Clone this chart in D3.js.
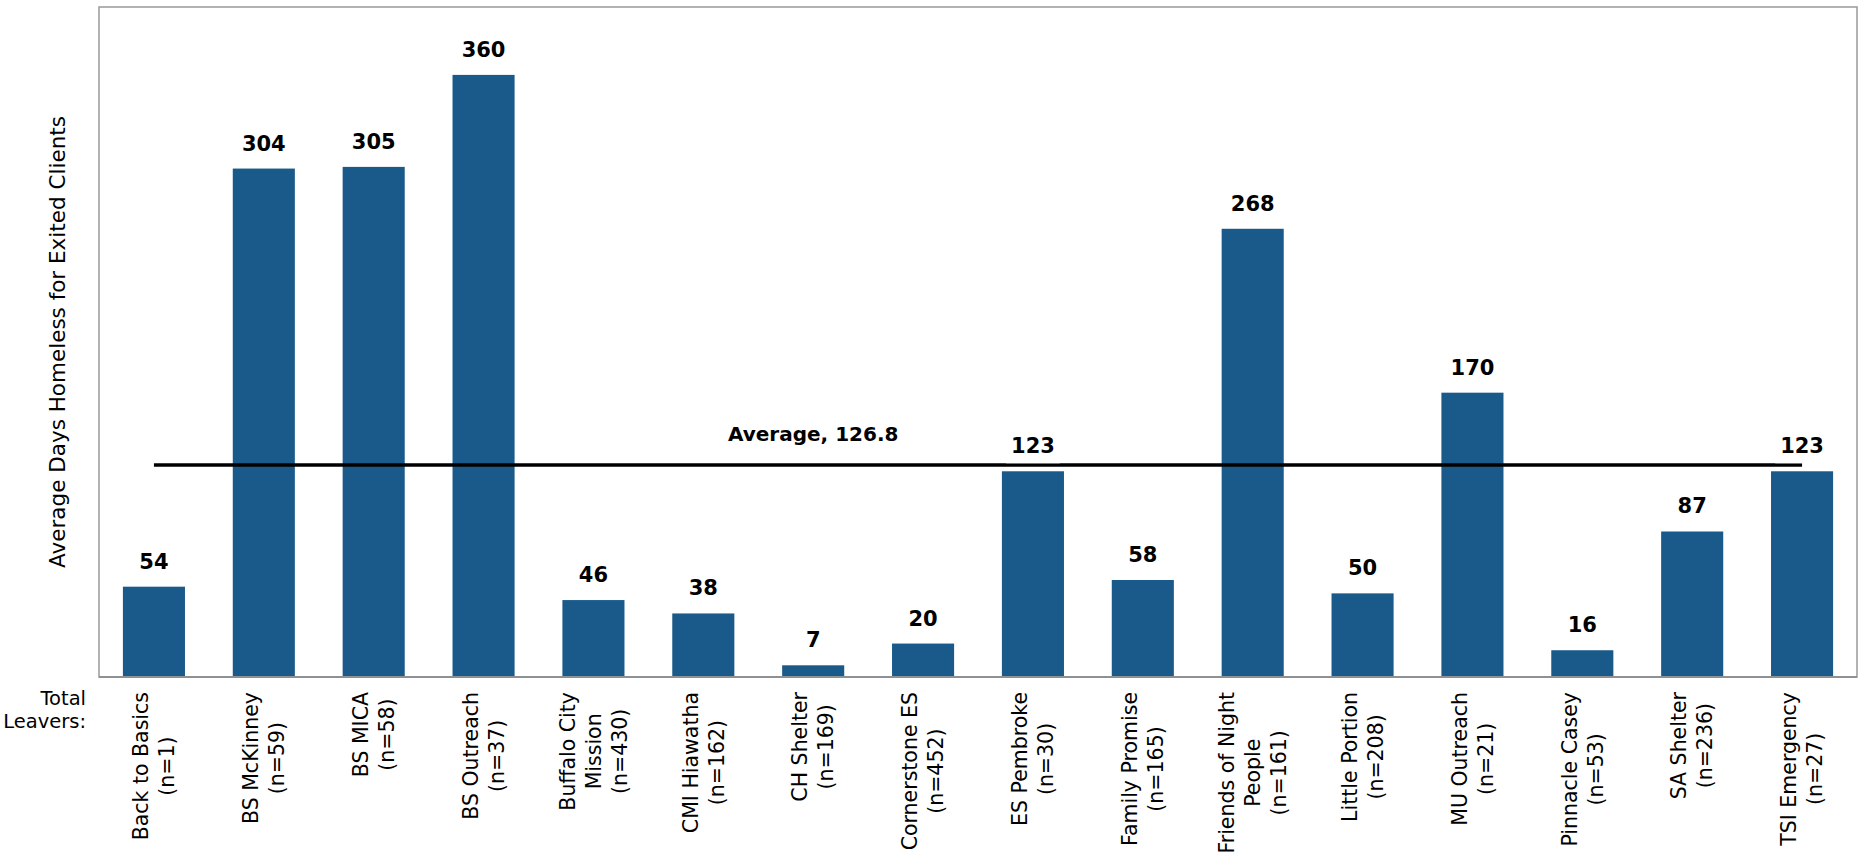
<!DOCTYPE html>
<html>
<head>
<meta charset="utf-8">
<script src="https://cdn.jsdelivr.net/npm/d3@7"></script>
<style>
  html, body { margin: 0; padding: 0; background: #fff; }
  svg { display: block; }
  text { font-family: "DejaVu Sans", sans-serif; fill: #000; }
</style>
</head>
<body>
<svg id="chart" width="1862" height="868"></svg>
<script>
// ---- data ----
const categories = [
  "Back to Basics", "BS McKinney", "BS MICA", "BS Outreach",
  "Buffalo City\nMission", "CMI Hiawatha", "CH Shelter", "Cornerstone ES",
  "ES Pembroke", "Family Promise", "Friends of Night\nPeople", "Little Portion",
  "MU Outreach", "Pinnacle Casey", "SA Shelter", "TSI Emergency"
];
const leavers = [1, 59, 58, 37, 430, 162, 169, 452, 30, 165, 161, 208, 21, 53, 236, 27];
const avgDays = [54, 304, 305, 360, 46, 38, 7, 20, 123, 58, 268, 50, 170, 16, 87, 123];
const averageValue = 126.8;
const averageLabel = "Average, 126.8";
const yAxisTitle = "Average Days Homeless for Exited Clients";
const leftLabelLines = ["Total", "Leavers:"];

// ---- layout ----
const svg = d3.select("#chart");
const plot = { left: 99, right: 1857, top: 7, bottom: 677 };

const x = d3.scaleBand()
  .domain(categories)
  .range([plot.left, plot.right])
  .paddingInner(0.435)
  .paddingOuter(0.2175);

const y = d3.scaleLinear()
  .domain([0, 400])
  .range([plot.bottom, 8]);

const barColor = "#1a5a8a";

// frame
svg.append("rect")
  .attr("x", plot.left).attr("y", plot.top)
  .attr("width", plot.right - plot.left).attr("height", plot.bottom - plot.top)
  .attr("fill", "none").attr("stroke", "#999").attr("stroke-width", 1.5);

// bars
svg.append("g").selectAll("rect")
  .data(categories)
  .join("rect")
  .attr("x", d => x(d))
  .attr("y", (d, i) => y(avgDays[i]))
  .attr("width", x.bandwidth())
  .attr("height", (d, i) => y(0) - y(avgDays[i]))
  .attr("fill", barColor);

// bottom axis line
svg.append("line")
  .attr("x1", plot.left).attr("x2", plot.right)
  .attr("y1", y(0)).attr("y2", y(0))
  .attr("stroke", "#8e9194").attr("stroke-width", 2);

// average line (from first bar center to last bar center)
const cx = d => x(d) + x.bandwidth() / 2;
svg.append("line")
  .attr("x1", cx(categories[0]))
  .attr("x2", cx(categories[categories.length - 1]))
  .attr("y1", y(averageValue)).attr("y2", y(averageValue))
  .attr("stroke", "#000").attr("stroke-width", 3.5);

svg.append("text")
  .attr("x", cx(categories[6]))
  .attr("y", y(averageValue) - 24)
  .attr("text-anchor", "middle")
  .attr("font-size", 20)
  .attr("font-weight", 700)
  .text(averageLabel);

// value labels with white background
const vl = svg.append("g");
categories.forEach((c, i) => {
  const g = vl.append("g");
  const by = y(avgDays[i]) - 18;
  const rect = g.append("rect").attr("fill", "#fff");
  const t = g.append("text")
    .attr("x", cx(c)).attr("y", by)
    .attr("text-anchor", "middle")
    .attr("font-size", 21)
    .attr("font-weight", 700)
    .text(avgDays[i]);
  const w = t.node().getComputedTextLength();
  rect.attr("x", cx(c) - w / 2 - 5).attr("y", by - 20)
    .attr("width", w + 10).attr("height", 30);
});

// category labels (rotated, centered block, top aligned)
const labelTop = 692;
const lineGap = 26;
const xl = svg.append("g");
categories.forEach((c, i) => {
  const lines = c.split("\n").concat([`(n=${leavers[i]})`]);
  const n = lines.length;
  const texts = lines.map((ln, j) =>
    xl.append("text")
      .attr("text-anchor", "middle")
      .attr("font-size", 20.5)
      .attr("dy", "0.35em")
      .text(ln));
  const maxW = d3.max(texts, t => t.node().getComputedTextLength());
  texts.forEach((t, j) => {
    const px = cx(c) + (j - (n - 1) / 2) * lineGap;
    const py = labelTop + maxW / 2;
    t.attr("transform", `translate(${px},${py}) rotate(-90)`);
  });
});

// left "Total Leavers:" label
leftLabelLines.forEach((ln, j) => {
  svg.append("text")
    .attr("x", 86).attr("y", 705 + j * 23)
    .attr("text-anchor", "end")
    .attr("font-size", 19.5)
    .text(ln);
});

// y-axis title
svg.append("text")
  .attr("transform", `translate(65,${(plot.top + plot.bottom) / 2}) rotate(-90)`)
  .attr("text-anchor", "middle")
  .attr("font-size", 21.5)
  .text(yAxisTitle);
</script>
</body>
</html>
